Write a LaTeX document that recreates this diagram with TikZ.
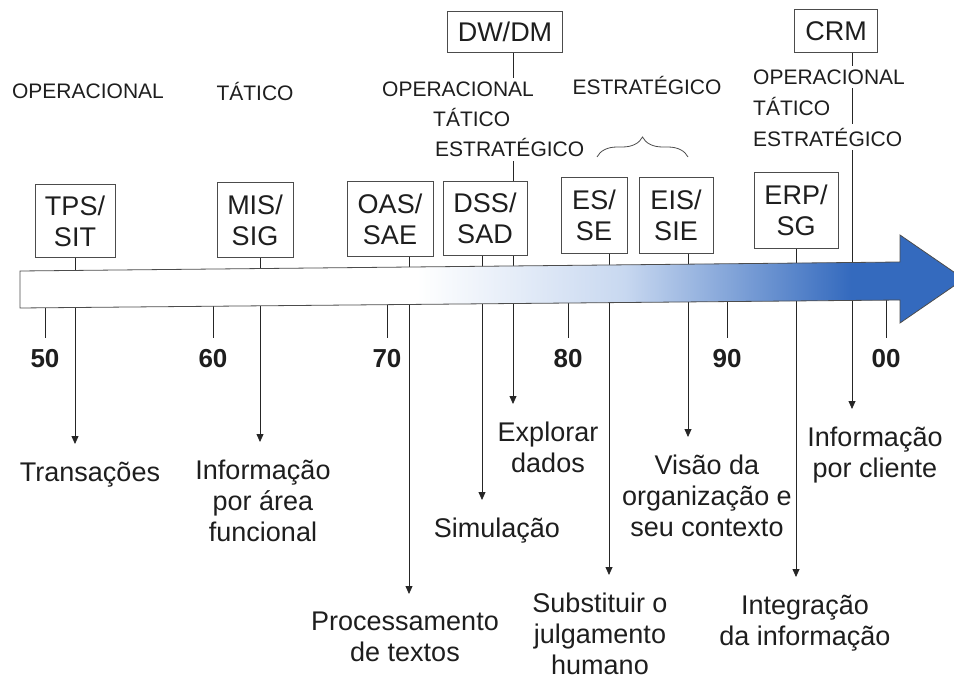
\documentclass[tikz,border=0pt]{standalone}
\usepackage{fontspec}
\setmainfont{Liberation Sans}
\usetikzlibrary{
  arrows.meta,backgrounds,
  decorations.pathreplacing
}

\definecolor{arrowblue}{RGB}{52,106,190}
\definecolor{arrowlight}{RGB}{200,216,240}
\definecolor{ink}{RGB}{30,30,30}

\pgfdeclarehorizontalshading{timeline}{100bp}{color(0bp)=(white); color(25bp)=(white);
  color(46bp)=(white); color(57bp)=(arrowlight); color(69bp)=(arrowblue); color(100bp)=(arrowblue)}

\tikzset{
  sysbox/.style={draw=black!70,line width=0.8pt,fill=white,align=center,inner sep=2pt,
    text=ink,font=\fontsize{27}{31}\selectfont},
  level/.style={fill=white,inner xsep=3pt,inner ysep=4pt,text=ink,font=\fontsize{21}{30}\selectfont},
  year/.style={text=ink,font=\fontsize{26}{30}\selectfont\bfseries},
  result/.style={align=center,anchor=north,inner sep=0pt,text=ink,font=\fontsize{27}{31}\selectfont},
  link/.style={black!85,line width=0.8pt},
  linkarrow/.style={link,shorten >=18pt,-{Triangle[length=8pt,width=7pt]}}
}

\begin{document}
\begin{tikzpicture}[x=1pt,y=-1pt]
\useasboundingbox (0,0) rectangle (954,679);

\node[sysbox,minimum width=80pt,minimum height=73pt] (tps) at (75,221) {TPS/\\SIT};
\node[sysbox,minimum width=76pt,minimum height=75pt] (mis) at (255,220) {MIS/\\SIG};
\node[sysbox,minimum width=86pt,minimum height=75pt] (oas) at (390,219) {OAS/\\SAE};
\node[sysbox,minimum width=84pt,minimum height=74pt] (dss) at (485,218) {DSS/\\SAD};
\node[sysbox,minimum width=66pt,minimum height=76pt] (es) at (594,215) {ES/\\SE};
\node[sysbox,minimum width=74pt,minimum height=76pt] (eis) at (676,215) {EIS/\\SIE};
\node[sysbox,minimum width=84pt,minimum height=76pt] (erp) at (796,210) {ERP/\\SG};
\node[sysbox,minimum width=115pt,minimum height=41pt] (dwdm) at (505,32) {DW/DM};
\node[sysbox,minimum width=83pt,minimum height=43pt] (crm) at (836,31) {CRM};

\node[level] (op) at (88,91) {OPERACIONAL};
\node[level] (tat) at (255,91) {TÁTICO};
\node[level,align=left,anchor=north west] (mix) at (379,78)
  {OPERACIONAL\\\hspace*{51pt}TÁTICO\\\hspace*{53pt}ESTRATÉGICO};
\node[level] (est) at (647,85) {ESTRATÉGICO};
\node[level,anchor=west] (allop) at (750,77) {OPERACIONAL};
\node[level,anchor=west,fill=none] (alltat) at (750,106) {TÁTICO};
\node[level,anchor=west] (allest) at (750,137) {ESTRATÉGICO};

\draw[black!70,line width=0.8pt,decorate,decoration={brace,amplitude=20pt}]
  (597,157) -- (688,157);

\node[result] (trans) at (90,462) {Transações};
\node[result] (area) at (263,460) {Informação\\por área\\funcional};
\node[result] (proc) at (405,612) {Processamento\\de textos};
\node[result] (sim) at (497,518) {Simulação};
\node[result] (expl) at (548,422) {Explorar\\dados};
\node[result] (subst) at (600,593) {Substituir o\\julgamento\\humano};
\node[result] (visao) at (707,455) {Visão da\\organização e\\seu contexto};
\node[result] (integ) at (805,595) {Integração\\da informação};
\node[result] (cli) at (875,427) {Informação\\por cliente};

\coordinate (cmis) at (260,0);
\coordinate (coas) at (409,0);
\coordinate (cdss) at (482,0);
\coordinate (cdw) at (513,0);
\coordinate (ces) at (609,0);
\coordinate (ceis) at (688,0);
\coordinate (ccrm) at (852,0);

\begin{scope}[on background layer]
\draw[linkarrow] (tps.south) -- (tps.south |- trans.north);
\draw[linkarrow] (cmis |- mis.south) -- (cmis |- area.north);
\draw[linkarrow] (coas |- oas.south) -- (coas |- proc.north);
\draw[linkarrow] (cdss |- dss.south) -- (cdss |- sim.north);
\draw[link] (cdw |- dwdm.south) -- (cdw |- dss.north);
\draw[linkarrow] (cdw |- dss.south) -- (cdw |- expl.north);
\draw[linkarrow] (ces |- es.south) -- (ces |- subst.north);
\draw[linkarrow] (ceis |- eis.south) -- (ceis |- visao.north);
\draw[linkarrow] (erp.south) -- (erp.south |- integ.north);
\draw[linkarrow] (ccrm |- crm.south) -- (ccrm |- cli.north);

\foreach \x/\yr in {45/50,213/60,387/70,568/80,727/90,886/00} {
  \draw[link] (\x,300) -- (\x,338);
  \node[year] at (\x,359) {\yr};
}

\draw[black!70,line width=0.8pt,shading=timeline]
  (20,271) -- (900,262) -- (900,235) -- (964,279) -- (900,323) -- (900,300) -- (20,308) -- cycle;
\end{scope}
\end{tikzpicture}
\end{document}
